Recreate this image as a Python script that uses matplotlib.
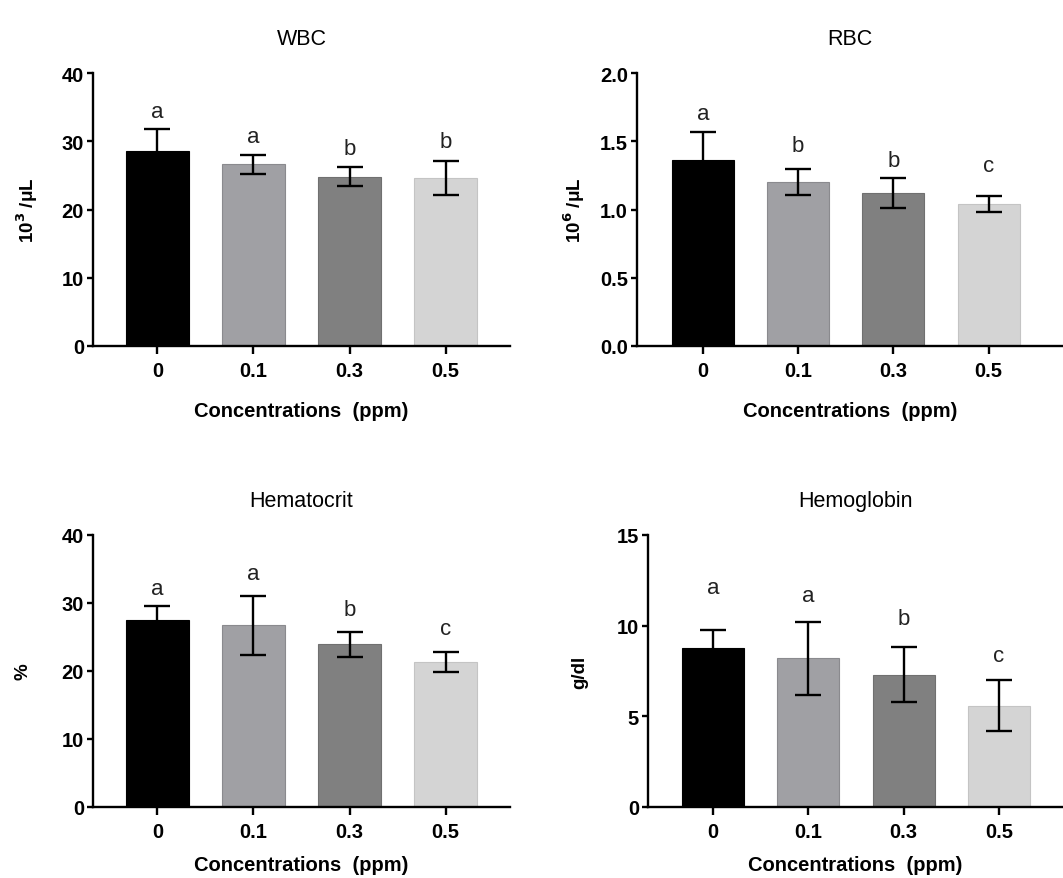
import matplotlib.pyplot as plt

plt.rcParams['font.family'] = ['Liberation Sans', 'DejaVu Sans']

# Data
concentrations = ['0', '0.1', '0.3', '0.5']
bar_colors = ['#000000', '#a0a0a4', '#808080', '#d4d4d4']

wbc_mean = [28.6, 26.6, 24.8, 24.6]
wbc_err = [3.2, 1.4, 1.4, 2.5]
wbc_letters = ['a', 'a', 'b', 'b']
wbc_letter_y = [34.4, 30.7, 29.0, 30.0]

rbc_mean = [1.36, 1.20, 1.12, 1.04]
rbc_err = [0.205, 0.095, 0.11, 0.06]
rbc_letters = ['a', 'b', 'b', 'c']
rbc_letter_y = [1.70, 1.47, 1.36, 1.32]

hct_mean = [27.5, 26.7, 23.9, 21.3]
hct_err = [2.1, 4.4, 1.9, 1.45]
hct_letters = ['a', 'a', 'b', 'c']
hct_letter_y = [32.2, 34.4, 29.1, 26.3]

hb_mean = [8.75, 8.2, 7.3, 5.58]
hb_err = [1.03, 2.0, 1.5, 1.41]
hb_letters = ['a', 'a', 'b', 'c']
hb_letter_y = [12.1, 11.66, 10.37, 8.34]

W, H = 1063, 879
fig = plt.figure(figsize=(W / 100, H / 100), dpi=100)


# FUNCTION: draws one bar panel; box is (left, top, right, bottom) in pixels
def panel(box, xlim, means, errs, letters, letter_y, ymax, yticks, ticklabels,
          title, ylabel, ylab_x, xlab_y):
    l, t, r, b = box
    ax = fig.add_axes([l / W, 1 - b / H, (r - l) / W, (b - t) / H])
    x = range(len(means))
    ax.bar(x, means, width=0.65, color=bar_colors,
           edgecolor=['#000000', '#8a8a8e', '#707070', '#c4c4c4'], linewidth=0.8, zorder=2)
    ax.errorbar(x, means, yerr=errs, fmt='none', ecolor='black', elinewidth=1.7,
                capsize=9.5, capthick=1.7, zorder=3)
    for xi, lt, ly in zip(x, letters, letter_y):
        ax.text(xi, ly, lt, ha='center', va='center', fontsize=16, color='#222222')
    ax.set_xlim(*xlim)
    ax.set_ylim(0, ymax)
    ax.set_yticks(yticks)
    ax.set_yticklabels(ticklabels)
    ax.set_xticks(list(x))
    ax.set_xticklabels(concentrations)
    for s in ['top', 'right']:
        ax.spines[s].set_visible(False)
    for s in ['left', 'bottom']:
        ax.spines[s].set_linewidth(1.7)
    ax.tick_params(axis='x', length=6, width=1.7, pad=5, labelsize=14.5)
    ax.tick_params(axis='y', length=4.5, width=1.7, pad=2, labelsize=14.5)
    for lab in ax.get_xticklabels() + ax.get_yticklabels():
        lab.set_fontweight('bold')
    ax.set_title(title, fontsize=15.5, pad=21, fontweight='medium')
    ax.set_xlabel('Concentrations  (ppm)', fontsize=14.5, fontweight='bold')
    ax.xaxis.set_label_coords(0.5, xlab_y)
    ax.set_ylabel(ylabel, fontsize=13.5, fontweight='bold')
    ax.yaxis.set_label_coords(ylab_x, 0.5)
    return ax


panel((93, 74, 510, 347), (-0.67, 3.67), wbc_mean, wbc_err, wbc_letters, wbc_letter_y,
      40, [0, 10, 20, 30, 40], ['0', '10', '20', '30', '40'],
      'WBC', r'10$^{\mathbf{3}}$ /μL', -0.127, -0.2)
panel((637, 74, 1063, 347), (-0.69, 3.78), rbc_mean, rbc_err, rbc_letters, rbc_letter_y,
      2.0, [0.0, 0.5, 1.0, 1.5, 2.0], ['0.0', '0.5', '1.0', '1.5', '2.0'],
      'RBC', r'10$^{\mathbf{6}}$ /μL', -0.117, -0.2)
panel((93, 536, 510, 808), (-0.67, 3.67), hct_mean, hct_err, hct_letters, hct_letter_y,
      40, [0, 10, 20, 30, 40], ['0', '10', '20', '30', '40'],
      'Hematocrit', '%', -0.148, -0.178)
panel((648, 536, 1063, 808), (-0.68, 3.67), hb_mean, hb_err, hb_letters, hb_letter_y,
      15, [0, 5, 10, 15], ['0', '5', '10', '15'],
      'Hemoglobin', 'g/dl', -0.145, -0.178)

plt.savefig('out.png', dpi=100, facecolor='white')
